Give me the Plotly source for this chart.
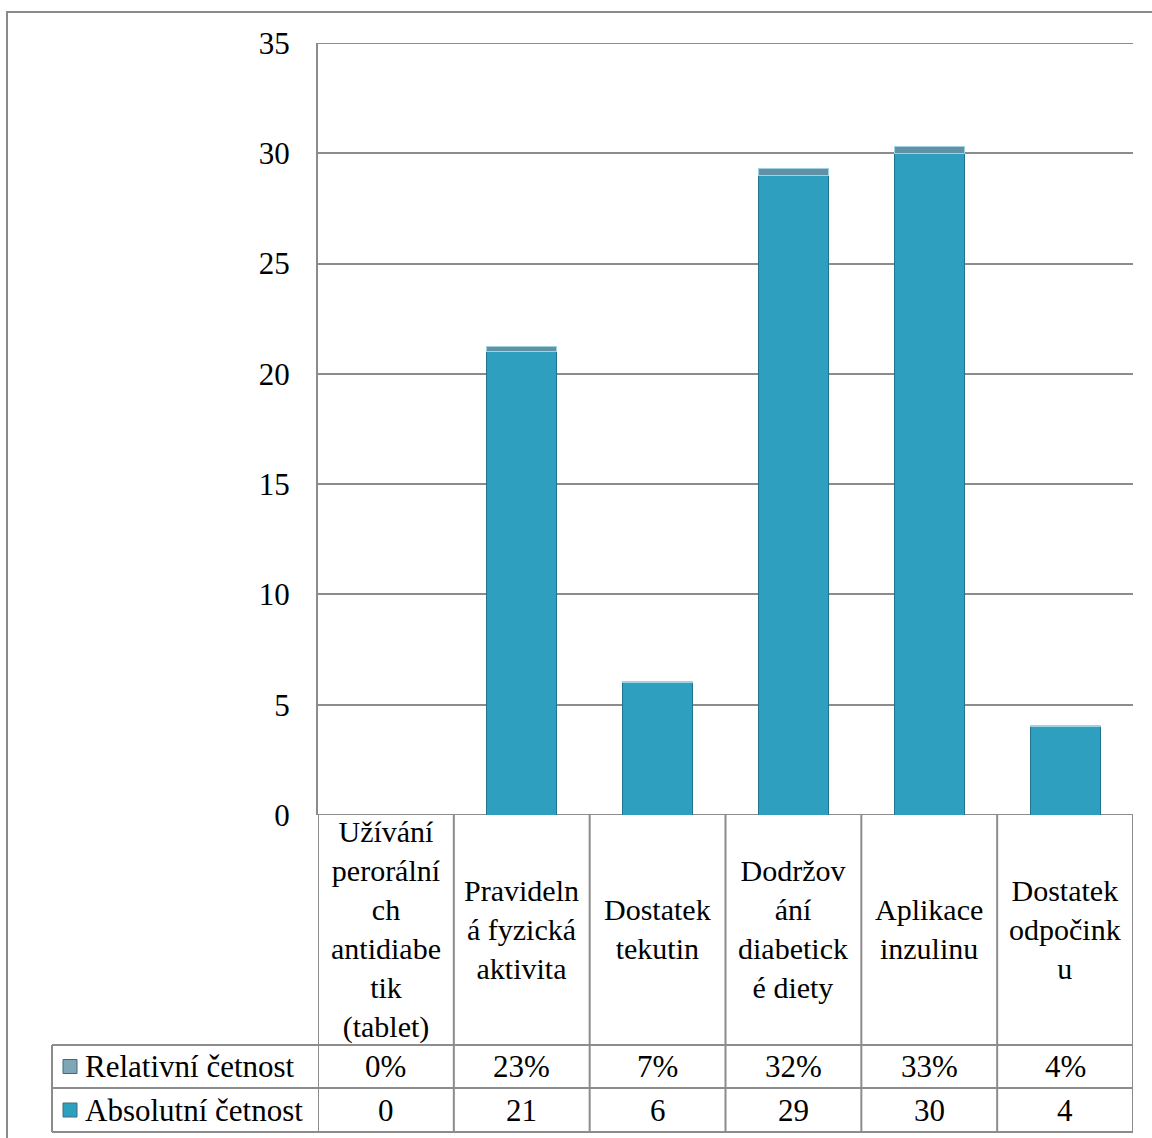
import plotly.graph_objects as go

# Category labels (with the wrapping used in the data table)
categories = [
    "Užívání<br>perorální<br>ch<br>antidiabe<br>tik<br>(tablet)",
    "Pravideln<br>á fyzická<br>aktivita",
    "Dostatek<br>tekutin",
    "Dodržov<br>ání<br>diabetick<br>é diety",
    "Aplikace<br>inzulinu",
    "Dostatek<br>odpočink<br>u",
]
absolute_counts = [0, 21, 6, 29, 30, 4]
relative_share = [0.00, 0.23, 0.07, 0.32, 0.33, 0.04]
series_names = ["Relativní četnost", "Absolutní četnost"]
y_ticks = [0, 5, 10, 15, 20, 25, 30, 35]

FONT = "Liberation Serif"
FS = 31
FS_CAT = 30
GRID = "#8c8c8c"
ABS_COLOR = "#2f9fc0"
REL_COLOR = "#6391a4"

W, H = 1152, 1138
L, R, T, B = 318, 19, 43, 323
plot_w = W - L - R
plot_h = H - T - B


def py(pix):
    """pixel row -> paper y"""
    return (H - B - pix) / plot_h


def px(pix):
    """pixel column -> paper x"""
    return (pix - L) / plot_w


xs = list(range(len(categories)))

fig = go.Figure()
fig.add_trace(go.Bar(
    x=xs, y=absolute_counts, name=series_names[1], width=0.515,
    marker=dict(color=ABS_COLOR, line=dict(color="#1f7590", width=1)),
))
fig.add_trace(go.Bar(
    x=xs, y=relative_share, name=series_names[0], width=0.515,
    marker=dict(color=REL_COLOR, line=dict(color="#9fd3e3", width=1)),
))

shapes = []
annotations = []
line = dict(color=GRID, width=2)

# gridlines at the ends of the value range
for v in (y_ticks[0], y_ticks[-1]):
    shapes.append(dict(type="line", xref="paper", yref="y", x0=0, x1=1,
                       y0=v, y1=v, line=line, layer="below"))

# data table geometry
header_bottom = py(1045)
row_mid = py(1088)
table_bottom = py(1132)
left_col = px(52)

# vertical column lines
for k in range(len(categories) + 1):
    shapes.append(dict(type="line", xref="x", yref="paper",
                       x0=k - 0.5, x1=k - 0.5, y0=0, y1=table_bottom,
                       line=line))
# horizontal lines of the table
for yy in (header_bottom, row_mid, table_bottom):
    shapes.append(dict(type="line", xref="paper", yref="paper",
                       x0=left_col, x1=1, y0=yy, y1=yy, line=line))
shapes.append(dict(type="line", xref="paper", yref="paper",
                   x0=left_col, x1=left_col, y0=header_bottom, y1=table_bottom,
                   line=line))

# outer chart frame
shapes.append(dict(type="rect", xref="paper", yref="paper",
                   x0=px(7), x1=px(1165), y0=py(12), y1=py(1150),
                   line=dict(color="#8a8a8a", width=2), layer="below"))

# legend keys in the table rows
for name, color, top, bot in ((series_names[0], "#7fa6b6", 1045, 1088),
                              (series_names[1], ABS_COLOR, 1088, 1132)):
    mid = (top + bot) / 2
    shapes.append(dict(type="rect", xref="paper", yref="paper",
                       x0=px(63), x1=px(77), y0=py(mid - 7), y1=py(mid + 7),
                       fillcolor=color, line=dict(color="#3c6c7c", width=1)))
    annotations.append(dict(xref="paper", yref="paper", x=px(83), y=py(mid),
                            text=name, showarrow=False, xanchor="left",
                            yanchor="middle", font=dict(family=FONT, size=FS, color="black")))

# category header texts and table values
for i, cat in enumerate(categories):
    annotations.append(dict(xref="x", yref="paper", x=i, y=py(929),
                            text=cat, showarrow=False, xanchor="center",
                            yanchor="middle", align="center",
                            font=dict(family=FONT, size=FS_CAT, color="black")))
    annotations.append(dict(xref="x", yref="paper", x=i, y=py(1066.5),
                            text=f"{round(relative_share[i] * 100)}%",
                            showarrow=False, xanchor="center", yanchor="middle",
                            font=dict(family=FONT, size=FS, color="black")))
    annotations.append(dict(xref="x", yref="paper", x=i, y=py(1110),
                            text=str(absolute_counts[i]),
                            showarrow=False, xanchor="center", yanchor="middle",
                            font=dict(family=FONT, size=FS, color="black")))

fig.update_layout(
    width=W, height=H,
    margin=dict(l=L, r=R, t=T, b=B),
    barmode="stack",
    showlegend=False,
    plot_bgcolor="white", paper_bgcolor="white",
    font=dict(family=FONT, size=FS, color="black"),
    shapes=shapes, annotations=annotations,
    xaxis=dict(range=[-0.5, len(categories) - 0.5], showticklabels=False,
               showgrid=False, zeroline=False, showline=False, fixedrange=True),
    yaxis=dict(range=[0, 35], tickvals=y_ticks, showgrid=True, gridcolor=GRID,
               gridwidth=2, zeroline=False, showline=True, linecolor=GRID,
               linewidth=2, ticks="", ticklabelstandoff=20,
               tickfont=dict(family=FONT, size=FS, color="black")),
)

fig.write_html("out.html")
